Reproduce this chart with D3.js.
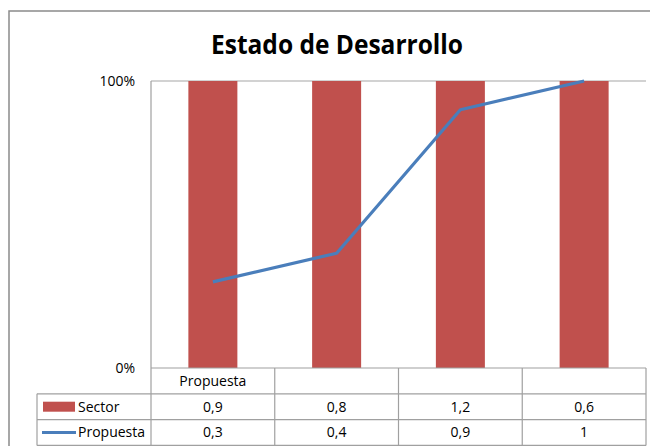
<!DOCTYPE html>
<html><head><meta charset="utf-8">
<script src="https://cdn.jsdelivr.net/npm/d3@7"></script>
<style>body{margin:0;background:#fff;} svg{display:block;}</style>
</head><body>
<svg id="c" width="650" height="446"></svg>
<script>
const categories = ["Propuesta", "", "", ""];
const sectorValues = [0.9, 0.8, 1.2, 0.6];
const propuestaValues = [0.3, 0.4, 0.9, 1];
const yTicks = [0, 1];
const seriesNames = ["Sector", "Propuesta"];
const chartTitle = "Estado de Desarrollo";

(function () {
const svg = d3.select("#c");
const font = "'Open Sans', 'Liberation Sans', sans-serif";
const fs = 14;
const pLeft = 151, pRight = 646, pTop = 81, pBottom = 368;
const rowH = 25.8;
const legendLeft = 37;

// outer border
svg.append("rect").attr("x", 9).attr("y", 11).attr("width", 700).attr("height", 500)
  .attr("fill", "#fff").attr("stroke", "#8a8a8a").attr("stroke-width", 1.5);

svg.append("text").attr("x", 337).attr("y", 53.5).attr("text-anchor", "middle")
  .attr("font-family", font).attr("font-weight", "bold").attr("font-size", 26)
  .attr("textLength", 252).attr("lengthAdjust", "spacingAndGlyphs")
  .attr("fill", "#000").text(chartTitle);

const xb = d3.scaleBand().domain(d3.range(categories.length)).range([pLeft, pRight]);
const y = d3.scaleLinear().domain([0, 1]).range([pBottom, pTop]);

// gridline at 100%
svg.append("line").attr("x1", pLeft).attr("x2", pRight).attr("y1", y(1)).attr("y2", y(1))
  .attr("stroke", "#a6a6a6").attr("stroke-width", 1.2);

// y tick labels
svg.selectAll(".yt").data(yTicks).enter().append("text")
  .attr("x", 135).attr("y", d => y(d)).attr("dy", "0.35em").attr("text-anchor", "end")
  .attr("font-family", font).attr("font-size", fs).attr("fill", "#000")
  .text(d => d3.format(".0%")(d));

// bars (100% stacked single series)
const shares = sectorValues.map(v => v / v);
svg.selectAll(".bar").data(shares).enter().append("rect")
  .attr("x", (d, i) => xb(i) + (xb.bandwidth() - 49) / 2)
  .attr("width", 49)
  .attr("y", d => y(d)).attr("height", d => y(0) - y(d))
  .attr("fill", "#C0504D");

// line
const line = d3.line().x((d, i) => xb(i) + xb.bandwidth() / 2).y(d => y(d));
svg.append("path").datum(propuestaValues).attr("d", line)
  .attr("fill", "none").attr("stroke", "#4A7EBB").attr("stroke-width", 3.2)
  .attr("stroke-linejoin", "round");

// data table
const gc = "#a0a0a0";
const tb = pBottom + rowH * 3;
const hl = (y0, x0) => svg.append("line").attr("x1", x0).attr("x2", pRight).attr("y1", y0).attr("y2", y0).attr("stroke", gc).attr("stroke-width", 1.2);
hl(pBottom, pLeft);
hl(pBottom + rowH, legendLeft);
hl(pBottom + 2 * rowH, legendLeft);
hl(tb, legendLeft);
const vl = (x0, y0) => svg.append("line").attr("x1", x0).attr("x2", x0).attr("y1", y0).attr("y2", tb).attr("stroke", gc).attr("stroke-width", 1.2);
vl(legendLeft, pBottom + rowH);
vl(pLeft, pTop);
d3.range(categories.length).forEach(i => vl(xb(i) + xb.bandwidth(), pBottom));

const fmt = v => String(v).replace(".", ",");
svg.selectAll(".cat").data(categories).enter().append("text")
  .attr("x", (d, i) => xb(i) + xb.bandwidth() / 2).attr("y", pBottom + rowH / 2).attr("dy", "0.35em")
  .attr("text-anchor", "middle").attr("font-family", font).attr("font-size", fs).text(d => d);
[sectorValues, propuestaValues].forEach((arr, r) => {
  svg.selectAll(".v" + r).data(arr).enter().append("text")
    .attr("x", (d, i) => xb(i) + xb.bandwidth() / 2).attr("y", pBottom + rowH * (r + 1.5)).attr("dy", "0.35em")
    .attr("text-anchor", "middle").attr("font-family", font).attr("font-size", fs).text(d => fmt(d));
  svg.append("text").attr("x", 78).attr("y", pBottom + rowH * (r + 1.5)).attr("dy", "0.35em")
    .attr("font-family", font).attr("font-size", fs).text(seriesNames[r]);
});
// legend keys
svg.append("rect").attr("x", 43).attr("y", pBottom + rowH * 1.5 - 5).attr("width", 32).attr("height", 10).attr("fill", "#C0504D");
svg.append("line").attr("x1", 42).attr("x2", 76).attr("y1", pBottom + rowH * 2.5).attr("y2", pBottom + rowH * 2.5)
  .attr("stroke", "#4A7EBB").attr("stroke-width", 3);
})();
</script>
</body></html>
